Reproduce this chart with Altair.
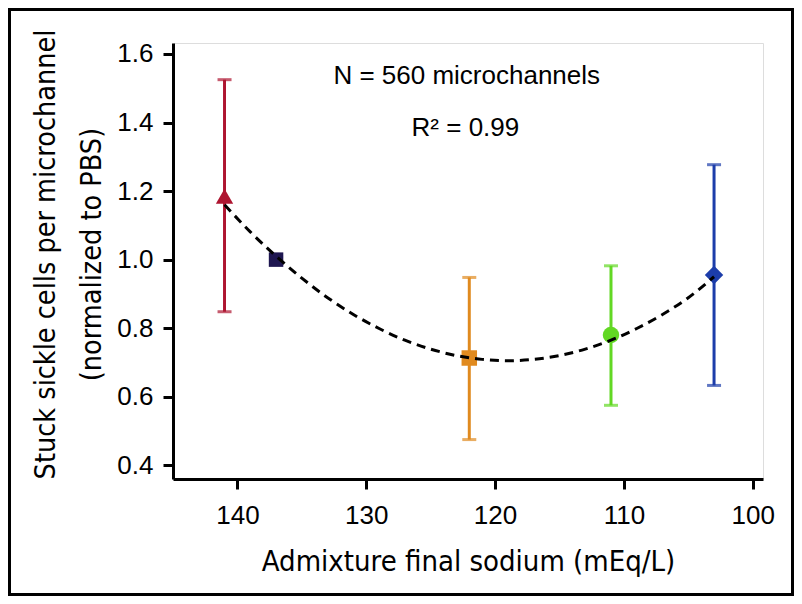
import altair as alt
import pandas as pd

# Measured points (x = admixture final sodium, mEq/L)
sodium = [141, 137, 122, 111, 103]
mean = [1.185, 1.0, 0.713, 0.78, 0.955]
low = [0.848, 0.992, 0.475, 0.575, 0.633]
high = [1.525, 1.008, 0.948, 0.982, 1.277]
shapes = ["triangle-up", "square", "square", "circle", "diamond"]
colors = ["#AE1530", "#1E1650", "#E08A1F", "#62D824", "#1C3DAA"]
bar_colors = ["#AE1530", "#5A35D0", "#E08A1F", "#62D824", "#1C3DAA"]
sizes = [300, 210, 240, 270, 340]

# Fitted curve
fit_x = [141, 139, 137, 135, 133, 131, 129, 127, 125, 123, 121, 119,
         117, 115, 113, 111, 109, 107, 105, 103]
fit_y = [1.160, 1.081, 1.010, 0.946, 0.889, 0.840, 0.799, 0.765, 0.739,
         0.720, 0.709, 0.705, 0.709, 0.720, 0.739, 0.765, 0.799, 0.840,
         0.889, 0.950]

# Annotations
notes = ["N = 560 microchannels", "R\u00b2 = 0.99"]
note_x = [122.2, 122.3]
note_y = [1.535, 1.385]

x_ticks = [140, 130, 120, 110, 100]
y_ticks = [0.4, 0.6, 0.8, 1.0, 1.2, 1.4, 1.6]

pts = pd.DataFrame({"sodium": sodium, "mean": mean, "low": low, "high": high,
                    "shape": shapes, "color": colors, "bar": bar_colors,
                    "size": sizes})
fit = pd.DataFrame({"x": fit_x, "y": fit_y})
ann = pd.DataFrame({"t": notes, "x": note_x, "y": note_y})

TITLE_FONT = "DejaVu Sans Condensed, Liberation Sans, sans-serif"

xscale = alt.Scale(domain=[99.2, 145], reverse=True, nice=False, zero=False)
yscale = alt.Scale(domain=[0.36, 1.632], nice=False, zero=False)

xaxis = alt.Axis(values=x_ticks, title="Admixture final sodium (mEq/L)",
                 grid=False, domainColor="black", domainWidth=3,
                 tickColor="black", tickWidth=3, tickSize=10,
                 labelFont="Liberation Sans", labelFontSize=26,
                 labelColor="black", labelPadding=13, labelFlush=False,
                 titleFont=TITLE_FONT, titleFontSize=29,
                 titleFontWeight="normal", titleColor="black",
                 titleY=91, titleBaseline="alphabetic")
yaxis = alt.Axis(values=y_ticks, format=".1f",
                 title=["Stuck sickle cells per microchannel", "(normalized to PBS)"],
                 grid=False, domainColor="black", domainWidth=3,
                 tickColor="black", tickWidth=3, tickSize=10,
                 labelFont="Liberation Sans", labelFontSize=26,
                 labelColor="black", labelPadding=10,
                 titleFont=TITLE_FONT, titleFontSize=28.5,
                 titleFontWeight="normal", titleColor="black",
                 titleLineHeight=46, titleX=-119, titleY=211,
                 titleAngle=270, titleBaseline="alphabetic", titleAlign="center")

base = alt.Chart(pts)

bars = base.mark_rule(strokeWidth=3).encode(
    x=alt.X("sodium:Q", scale=xscale, axis=xaxis),
    y=alt.Y("low:Q", scale=yscale, axis=yaxis),
    y2="high:Q",
    color=alt.Color("bar:N", scale=None),
)
caps_lo = base.mark_tick(orient="horizontal", thickness=3, size=14).encode(
    x=alt.X("sodium:Q", scale=xscale), y=alt.Y("low:Q", scale=yscale),
    color=alt.Color("bar:N", scale=None))
caps_hi = base.mark_tick(orient="horizontal", thickness=3, size=14).encode(
    x=alt.X("sodium:Q", scale=xscale), y=alt.Y("high:Q", scale=yscale),
    color=alt.Color("bar:N", scale=None))
marks = base.mark_point(filled=True, opacity=1).encode(
    x=alt.X("sodium:Q", scale=xscale), y=alt.Y("mean:Q", scale=yscale),
    shape=alt.Shape("shape:N", scale=None),
    color=alt.Color("color:N", scale=None),
    size=alt.Size("size:Q", scale=None))
line = alt.Chart(fit).mark_line(color="black", strokeWidth=3,
                                strokeDash=[9, 6], interpolate="monotone").encode(
    x=alt.X("x:Q", scale=xscale), y=alt.Y("y:Q", scale=yscale))
text = alt.Chart(ann).mark_text(font="Liberation Sans", fontSize=26,
                                color="black", baseline="middle",
                                align="center").encode(
    x=alt.X("x:Q", scale=xscale), y=alt.Y("y:Q", scale=yscale), text="t:N")
frame = alt.Chart(pd.DataFrame({"a": [0]})).mark_rect(
    fill=None, stroke="black", strokeWidth=3).encode(
    x=alt.value(-163.5), x2=alt.value(619.5),
    y=alt.value(-33.5), y2=alt.value(551.5))

chart = alt.layer(bars, caps_lo, caps_hi, marks, line, text, frame).properties(
    width=590, height=436,
    autosize=alt.AutoSizeParams(type="none"),
    padding={"left": 165, "top": 35, "right": 31, "bottom": 117},
).configure_view(stroke=None).configure(background="white")

chart.save("out.html", embed_options={"renderer": "svg", "actions": False})
